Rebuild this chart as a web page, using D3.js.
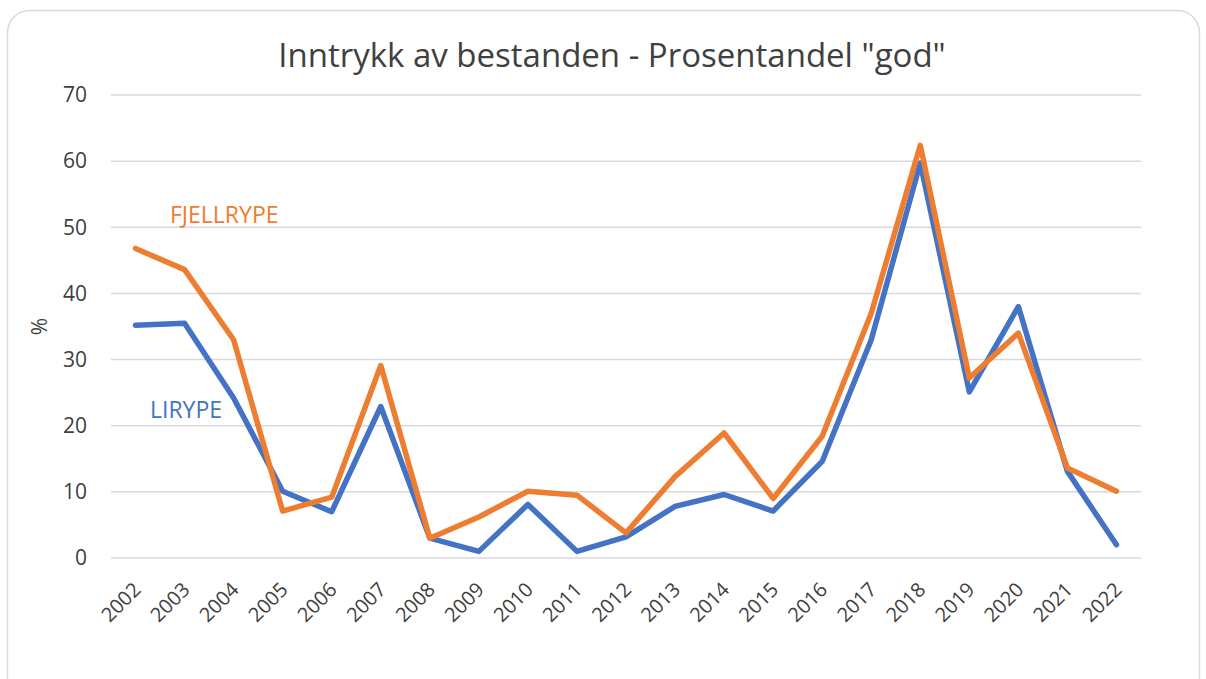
<!DOCTYPE html>
<html>
<head>
<meta charset="utf-8">
<script src="https://cdn.jsdelivr.net/npm/d3@7"></script>
<style>
  body { margin: 0; background: #fff; }
  svg { display: block; font-family: "Open Sans", sans-serif; }
</style>
</head>
<body>
<div class="chart"></div>
<script>
// Data
var years = ["2002","2003","2004","2005","2006","2007","2008","2009","2010","2011","2012",
  "2013","2014","2015","2016","2017","2018","2019","2020","2021","2022"];
var lirype = [35.2, 35.5, 24.2, 10.1, 7.0, 22.9, 3.0, 1.0, 8.1, 1.0, 3.2,
  7.8, 9.6, 7.1, 14.6, 33.0, 59.7, 25.1, 38.0, 13.1, 2.0];
var fjellrype = [46.8, 43.6, 33.0, 7.1, 9.2, 29.1, 3.0, 6.2, 10.1, 9.5, 3.8,
  12.3, 18.9, 9.0, 18.4, 37.0, 62.4, 27.2, 34.0, 13.6, 10.1];
var yTicks = [0, 10, 20, 30, 40, 50, 60, 70];

var series = [
  {name: "LIRYPE", values: lirype, color: "#4472C4"},
  {name: "FJELLRYPE", values: fjellrype, color: "#ED7D31"}
];

var W = 1206, H = 679,
  margin = {top: 95, right: 65, bottom: 121, left: 111},
  width = W - margin.left - margin.right,
  height = H - margin.top - margin.bottom;

var svg = d3.select(".chart").append("svg")
  .attr("width", W)
  .attr("height", H);

// Card border
svg.append("rect")
  .attr("x", 7.5).attr("y", 10.5)
  .attr("width", 1192).attr("height", 690)
  .attr("rx", 22)
  .attr("fill", "#fff")
  .attr("stroke", "#d9d9d9")
  .attr("stroke-width", 1.5);

// Title
svg.append("text")
  .attr("x", 612).attr("y", 67)
  .attr("text-anchor", "middle")
  .attr("font-size", 33)
  .attr("fill", "#404040")
  .text("Inntrykk av bestanden - Prosentandel \"god\"");

var g = svg.append("g")
  .attr("transform", "translate(" + margin.left + "," + margin.top + ")");

var xScale = d3.scalePoint().domain(years).range([0, width]).padding(0.5),
  yScale = d3.scaleLinear().domain([0, 70]).range([height, 0]);

// Gridlines
g.append("g")
  .selectAll("line")
  .data(yTicks).enter().append("line")
    .attr("x1", 0).attr("x2", width)
    .attr("y1", d => yScale(d)).attr("y2", d => yScale(d))
    .attr("stroke", "#d9d9d9")
    .attr("stroke-width", 1.5);

// Y axis
var yAxis = g.append("g")
  .attr("class", "axis axis--y")
  .call(d3.axisLeft(yScale).tickValues(yTicks).tickSize(0).tickPadding(24));
yAxis.select(".domain").remove();
yAxis.selectAll("text")
  .attr("font-size", 21)
  .attr("font-family", "Open Sans, sans-serif")
  .attr("fill", "#404040");

// X axis
var xAxis = g.append("g")
  .attr("class", "axis axis--x")
  .attr("transform", "translate(0," + height + ")")
  .call(d3.axisBottom(xScale).tickSize(0));
xAxis.select(".domain").remove();
xAxis.selectAll("text")
  .attr("font-size", 20)
  .attr("font-family", "Open Sans, sans-serif")
  .attr("fill", "#404040")
  .attr("text-anchor", "end")
  .attr("dy", null)
  .attr("y", 0)
  .attr("transform", "translate(6,33) rotate(-45)");

// Y axis title
svg.append("text")
  .attr("transform", "translate(47," + (margin.top + yScale(35)) + ") rotate(-90)")
  .attr("text-anchor", "middle")
  .attr("font-size", 21)
  .attr("fill", "#404040")
  .text("%");

// Lines
var line = d3.line()
  .x((d, i) => xScale(years[i]))
  .y(d => yScale(d));

series.forEach(function(s) {
  g.append("path")
    .datum(s.values)
    .attr("fill", "none")
    .attr("stroke", s.color)
    .attr("stroke-width", 5.5)
    .attr("stroke-linejoin", "round")
    .attr("stroke-linecap", "round")
    .attr("d", line);
});

// Series labels
svg.append("text")
  .attr("x", 170).attr("y", 223)
  .attr("font-size", 23)
  .attr("fill", "#ED7D31")
  .text("FJELLRYPE");
svg.append("text")
  .attr("x", 150).attr("y", 418)
  .attr("font-size", 23)
  .attr("fill", "#4472C4")
  .text("LIRYPE");
</script>
</body>
</html>
